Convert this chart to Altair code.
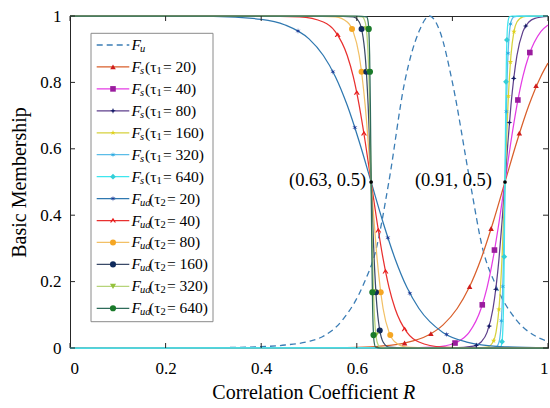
import altair as alt
import pandas as pd

# ---------------- values ----------------
fu_x = [0.0, 0.3, 0.4, 0.45, 0.5, 0.528, 0.57, 0.615, 0.64, 0.667, 0.70, 0.73, 0.752, 0.774, 0.80, 0.837, 0.864, 0.889, 0.934, 0.976, 1.0]
fu_y = [0.0, 0.001, 0.004, 0.009, 0.02, 0.034, 0.084, 0.195, 0.295, 0.5, 0.8, 0.953, 1.0, 0.953, 0.8, 0.5, 0.295, 0.195, 0.084, 0.034, 0.02]

fs20_x = [0.0, 0.4, 0.5, 0.6, 0.65, 0.7, 0.75, 0.78, 0.81, 0.835, 0.86, 0.885, 0.91, 0.935, 0.96, 0.985, 1.0]
fs20_y = [0.0, 0.0, 0.0003, 0.002, 0.0055, 0.015, 0.039, 0.069, 0.119, 0.182, 0.269, 0.378, 0.5, 0.622, 0.731, 0.818, 0.858]
fs40_x = [0.0, 0.7, 0.76, 0.785, 0.81, 0.835, 0.86, 0.8725, 0.885, 0.8975, 0.91, 0.9225, 0.935, 0.9475, 0.96, 0.985, 1.0]
fs40_y = [0.0, 0.0002, 0.0025, 0.0067, 0.018, 0.047, 0.119, 0.182, 0.269, 0.378, 0.5, 0.622, 0.731, 0.818, 0.881, 0.953, 0.973]
fs80_x = [0.0, 0.8, 0.8475, 0.86, 0.8725, 0.885, 0.8975, 0.90375, 0.91, 0.91625, 0.9225, 0.935, 0.9475, 0.96, 0.9725, 1.0]
fs80_y = [0.0, 0.0002, 0.0067, 0.018, 0.047, 0.119, 0.269, 0.378, 0.5, 0.622, 0.731, 0.881, 0.953, 0.982, 0.993, 0.999]
fs160_x = [0.0, 0.85, 0.8725, 0.885, 0.89125, 0.8975, 0.90375, 0.91, 0.91625, 0.9225, 0.92875, 0.935, 0.9475, 0.96, 1.0]
fs160_y = [0.0, 0.0001, 0.0025, 0.018, 0.047, 0.119, 0.269, 0.5, 0.731, 0.881, 0.953, 0.982, 0.9975, 1.0, 1.0]
fs320_x = [0.0, 0.88, 0.89125, 0.8975, 0.90375, 0.906875, 0.91, 0.913125, 0.91625, 0.9225, 0.92875, 0.94, 1.0]
fs320_y = [0.0, 0.0001, 0.0025, 0.018, 0.119, 0.269, 0.5, 0.731, 0.881, 0.982, 0.9975, 1.0, 1.0]
fs640_x = [0.0, 0.895, 0.900625, 0.90375, 0.906875, 0.9084, 0.91, 0.9116, 0.913125, 0.91625, 0.919375, 0.925, 1.0]
fs640_y = [0.0, 0.0001, 0.0025, 0.018, 0.119, 0.269, 0.5, 0.731, 0.881, 0.982, 0.9975, 1.0, 1.0]

fud20_x = [0.0, 0.3, 0.4, 0.45, 0.5, 0.53, 0.555, 0.58, 0.605, 0.63, 0.655, 0.68, 0.705, 0.73, 0.78, 0.83, 0.9, 1.0]
fud20_y = [1.0, 0.9986, 0.99, 0.973, 0.931, 0.881, 0.818, 0.731, 0.622, 0.5, 0.378, 0.269, 0.182, 0.119, 0.047, 0.018, 0.0045, 0.0006]
fud40_x = [0.0, 0.4, 0.48, 0.53, 0.555, 0.58, 0.5925, 0.605, 0.6175, 0.63, 0.6425, 0.655, 0.6675, 0.68, 0.705, 0.73, 0.78, 0.83, 1.0]
fud40_y = [1.0, 1.0, 0.9975, 0.982, 0.953, 0.881, 0.818, 0.731, 0.622, 0.5, 0.378, 0.269, 0.182, 0.119, 0.047, 0.018, 0.0025, 0.0003, 0.0]
fud80_x = [0.0, 0.5, 0.555, 0.58, 0.5925, 0.605, 0.6175, 0.63, 0.6425, 0.655, 0.6675, 0.68, 0.705, 0.75, 1.0]
fud80_y = [1.0, 1.0, 0.9975, 0.982, 0.953, 0.881, 0.731, 0.5, 0.269, 0.119, 0.047, 0.018, 0.0025, 0.0, 0.0]
fud160_x = [0.0, 0.55, 0.5925, 0.605, 0.6175, 0.62375, 0.63, 0.63625, 0.6425, 0.655, 0.6675, 0.7, 1.0]
fud160_y = [1.0, 1.0, 0.9975, 0.982, 0.881, 0.731, 0.5, 0.269, 0.119, 0.018, 0.0025, 0.0, 0.0]
fud320_x = [0.0, 0.58, 0.61125, 0.6175, 0.62375, 0.626875, 0.63, 0.633125, 0.63625, 0.6425, 0.64875, 0.66, 1.0]
fud320_y = [1.0, 1.0, 0.9975, 0.982, 0.881, 0.731, 0.5, 0.269, 0.119, 0.018, 0.0025, 0.0, 0.0]
fud640_x = [0.0, 0.6, 0.620625, 0.62375, 0.626875, 0.6284, 0.63, 0.6316, 0.633125, 0.63625, 0.639375, 0.65, 1.0]
fud640_y = [1.0, 1.0, 0.9975, 0.982, 0.881, 0.731, 0.5, 0.269, 0.119, 0.018, 0.0025, 0.0, 0.0]

# marker positions on each curve
m_fs20_x = [0.70, 0.755, 0.836, 0.881, 0.940, 0.975]
m_fs20_y = [0.015, 0.043, 0.185, 0.36, 0.647, 0.79]
m_fs40_x = [0.8055, 0.8625, 0.888, 0.937, 0.962]
m_fs40_y = [0.015, 0.13, 0.295, 0.747, 0.89]
m_fs80_x = [0.85, 0.877, 0.8908, 0.9194, 0.9283, 0.9535]
m_fs80_y = [0.008, 0.066, 0.177, 0.679, 0.812, 0.97]
m_fs160_x = [0.8863, 0.8973, 0.9172, 0.9214, 0.9288]
m_fs160_y = [0.022, 0.116, 0.759, 0.862, 0.953]
m_fs320_x = [0.9024, 0.9054, 0.9128, 0.9165, 0.9216]
m_fs320_y = [0.082, 0.185, 0.712, 0.888, 0.976]
m_fs640_x = [0.9038, 0.9085, 0.9122, 0.914]
m_fs640_y = [0.019, 0.275, 0.802, 0.928]
m_fud20_x = [0.477, 0.55, 0.596, 0.665, 0.711, 0.788]
m_fud20_y = [0.955, 0.832, 0.664, 0.332, 0.165, 0.041]
m_fud40_x = [0.56, 0.60, 0.615, 0.645, 0.66, 0.70]
m_fud40_y = [0.943, 0.769, 0.646, 0.354, 0.231, 0.057]
m_fud80_x = [0.59, 0.61, 0.65, 0.67]
m_fud80_y = [0.961, 0.832, 0.168, 0.039]
m_fud160_x = [0.61, 0.62, 0.64, 0.648]
m_fud160_y = [0.961, 0.832, 0.168, 0.053]
m_fud320_x = [0.62, 0.625, 0.635, 0.64]
m_fud320_y = [0.961, 0.832, 0.168, 0.039]
m_fud640_x = [0.625, 0.6275, 0.6325, 0.635]
m_fud640_y = [0.961, 0.832, 0.168, 0.039]

ann_x = [0.63, 0.91]
ann_y = [0.5, 0.5]
ann_text = ["(0.63, 0.5)", "(0.91, 0.5)"]

tick_values = [0, 0.2, 0.4, 0.6, 0.8, 1.0]

series = ["Fu", "Fs20", "Fs40", "Fs80", "Fs160", "Fs320", "Fs640",
          "Fud20", "Fud40", "Fud80", "Fud160", "Fud320", "Fud640"]
leg_sub = ["u", "s", "s", "s", "s", "s", "s", "ud", "ud", "ud", "ud", "ud", "ud"]
leg_tsub = ["", "1", "1", "1", "1", "1", "1", "2", "2", "2", "2", "2", "2"]
leg_val = ["", "20", "40", "80", "160", "320", "640", "20", "40", "80", "160", "320", "640"]

# ---------------- styles ----------------
line_colors = ["#3b7db5", "#d95f2b", "#e43de4", "#5e3f8c", "#d6d13c", "#5bbde8", "#3ee6ee",
               "#2f78b0", "#e8302f", "#f2c066", "#3a4a68", "#b6d47a", "#2e6b5a"]
marker_colors = ["#3b7db5", "#d01c1c", "#9a1c9e", "#141a66", "#e0d21e", "#27a9e1", "#34cfd8",
                 "#1c3a96", "#e81c1c", "#f5a623", "#0f2a5c", "#95c23d", "#1a7a2a"]
STAR5 = "M0,-1 L0.2245,-0.309 L0.951,-0.309 L0.363,0.118 L0.588,0.809 L0,0.382 L-0.588,0.809 L-0.363,0.118 L-0.951,-0.309 L-0.2245,-0.309 Z"
STAR4 = "M0,-1 L0.28,-0.28 L1,0 L0.28,0.28 L0,1 L-0.28,0.28 L-1,0 L-0.28,-0.28 Z"
STAR6 = "M0,-1 L0.15,-0.26 L0.866,-0.5 L0.3,0 L0.866,0.5 L0.15,0.26 L0,1 L-0.15,0.26 L-0.866,0.5 L-0.3,0 L-0.866,-0.5 L-0.15,-0.26 Z"
CARET = "M0,-0.9 L1,0.7 L0.55,0.7 L0,-0.1 L-0.55,0.7 L-1,0.7 Z"
shapes = ["circle", "triangle-up", "square", STAR4, STAR5, STAR6, "diamond",
          STAR6, CARET, "circle", "circle", "triangle-down", "circle"]
sizes = [30, 38, 32, 72, 80, 72, 34, 72, 56, 30, 30, 40, 26]

SERIF = "Liberation Serif, Times New Roman, Times, serif"
W, H = 478, 332

# ---------------- build tables ----------------
curves = {
    "Fs20": (fs20_x, fs20_y), "Fs40": (fs40_x, fs40_y), "Fs80": (fs80_x, fs80_y),
    "Fs160": (fs160_x, fs160_y), "Fs320": (fs320_x, fs320_y), "Fs640": (fs640_x, fs640_y),
    "Fud20": (fud20_x, fud20_y), "Fud40": (fud40_x, fud40_y), "Fud80": (fud80_x, fud80_y),
    "Fud160": (fud160_x, fud160_y), "Fud320": (fud320_x, fud320_y), "Fud640": (fud640_x, fud640_y),
}
markers = {
    "Fs20": (m_fs20_x, m_fs20_y), "Fs40": (m_fs40_x, m_fs40_y), "Fs80": (m_fs80_x, m_fs80_y),
    "Fs160": (m_fs160_x, m_fs160_y), "Fs320": (m_fs320_x, m_fs320_y), "Fs640": (m_fs640_x, m_fs640_y),
    "Fud20": (m_fud20_x, m_fud20_y), "Fud40": (m_fud40_x, m_fud40_y), "Fud80": (m_fud80_x, m_fud80_y),
    "Fud160": (m_fud160_x, m_fud160_y), "Fud320": (m_fud320_x, m_fud320_y), "Fud640": (m_fud640_x, m_fud640_y),
}
rows = []
for k, (xs, ys) in curves.items():
    for i, (a, b) in enumerate(zip(xs, ys)):
        rows.append({"s": k, "x": a, "y": b, "i": i})
lines_df = pd.DataFrame(rows)
fu_df = pd.DataFrame({"x": fu_x, "y": fu_y, "i": range(len(fu_x))})
mrows = []
for k, (xs, ys) in markers.items():
    for a, b in zip(xs, ys):
        mrows.append({"s": k, "x": a, "y": b})
mark_df = pd.DataFrame(mrows)


def px(p):
    return p / W


def py(p):
    return 1 - p / H


ann_df = pd.DataFrame({"x": ann_x, "y": ann_y, "t": ann_text})
ann_df["tx"] = [ann_x[0] - px(5), ann_x[1] - px(13)]

leg = pd.DataFrame({"s": series, "sub": leg_sub, "tsub": leg_tsub, "val": leg_val})
leg["y"] = [py(29 + 21.94 * i) for i in range(len(series))]
leg["lx1"] = px(26.7)
leg["lx2"] = px(59.3)
leg["mx"] = px(43)
leg["fx"] = px(61.5)
leg["subx"] = px(70)
leg["px_"] = [px(79.0) if s == "ud" else px(75.0) for s in leg_sub]
leg["tsx"] = leg["px_"] + px(11.5)
leg["rx"] = leg["tsx"] + px(6.5)
leg["paren"] = ["" if s == "u" else "(τ" for s in leg_sub]
leg["rest"] = ["" if v == "" else "= " + v + ")" for v in leg_val]
box_df = pd.DataFrame({"x": [px(21)], "x2": [px(143)], "y": [py(17.3)], "y2": [py(305.7)]})

tick_df = pd.DataFrame({"v": tick_values})
tick_df["zero"] = 0.0
tick_df["one"] = 1.0
tick_df["ty"] = 5 / H
tick_df["ty1"] = 1 - 5 / H
tick_df["tx"] = 5 / W
tick_df["tx1"] = 1 - 5 / W

xtitle_df = pd.DataFrame({"a": ["Correlation Coefficient"], "b": ["R"],
                          "xa": [px(328)], "xb": [px(333)], "y": [py(377)]})

# ---------------- encodings ----------------
xs_ = alt.Scale(domain=[0, 1], nice=False, zero=False)
ys_ = alt.Scale(domain=[0, 1], nice=False, zero=False)
xaxis = alt.Axis(values=tick_values, format="~g", title="", grid=False, ticks=False, domain=False,
                 labelFont=SERIF, labelFontSize=17, labelColor="black", labelPadding=12)
yaxis = alt.Axis(values=tick_values, format="~g", title="Basic Membership", grid=False, ticks=False,
                 domain=False, labelFont=SERIF, labelFontSize=17, labelColor="black", labelPadding=9,
                 titleFont=SERIF, titleFontSize=20, titleFontWeight="normal", titleColor="black",
                 titlePadding=10)


def X(f):
    return alt.X(f, type="quantitative", scale=xs_, axis=xaxis)


def Y(f):
    return alt.Y(f, type="quantitative", scale=ys_, axis=yaxis)


stroke_scale = alt.Scale(domain=series, range=line_colors)
fill_scale = alt.Scale(domain=series, range=marker_colors)
shape_scale = alt.Scale(domain=series, range=shapes)
size_scale = alt.Scale(domain=series, range=sizes)

fu_layer = alt.Chart(fu_df).mark_line(color=line_colors[0], strokeDash=[6, 4], strokeWidth=1.3,
                                      interpolate="monotone").encode(x=X("x"), y=Y("y"), order="i:Q")
lines_layer = alt.Chart(lines_df).mark_line(strokeWidth=1.25, interpolate="monotone").encode(
    x=X("x"), y=Y("y"), detail="s:N", order="i:Q",
    stroke=alt.Stroke("s:N", scale=stroke_scale, legend=None))
marks_layer = alt.Chart(mark_df).mark_point(filled=True, opacity=1, strokeWidth=0).encode(
    x=X("x"), y=Y("y"),
    fill=alt.Fill("s:N", scale=fill_scale, legend=None),
    shape=alt.Shape("s:N", scale=shape_scale, legend=None),
    size=alt.Size("s:N", scale=size_scale, legend=None))
ann_pts = alt.Chart(ann_df).mark_point(filled=True, color="black", size=14, opacity=1).encode(
    x=X("x"), y=Y("y"))
ann_txt = alt.Chart(ann_df).mark_text(font=SERIF, fontSize=18.5, align="right", baseline="middle",
                                      dy=-2, color="black").encode(x=X("tx"), y=Y("y"), text="t:N")

tick_b = alt.Chart(tick_df).mark_rule(color="#262626").encode(x=X("v"), y=Y("zero"), y2="ty:Q")
tick_t = alt.Chart(tick_df).mark_rule(color="#262626").encode(x=X("v"), y=Y("one"), y2="ty1:Q")
tick_l = alt.Chart(tick_df).mark_rule(color="#262626").encode(y=Y("v"), x=X("zero"), x2="tx:Q")
tick_r = alt.Chart(tick_df).mark_rule(color="#262626").encode(y=Y("v"), x=X("one"), x2="tx1:Q")

box = alt.Chart(box_df).mark_rect(fill="white", stroke="#8a8a8a", strokeWidth=1).encode(
    x=X("x"), x2="x2:Q", y=Y("y"), y2="y2:Q")
leg_lines = alt.Chart(leg[leg.s != "Fu"]).mark_rule(strokeWidth=1.25).encode(
    x=X("lx1"), x2="lx2:Q", y=Y("y"), stroke=alt.Stroke("s:N", scale=stroke_scale, legend=None))
leg_fu = alt.Chart(leg[leg.s == "Fu"]).mark_rule(strokeWidth=1.3, strokeDash=[6, 4],
                                                 color=line_colors[0]).encode(
    x=X("lx1"), x2="lx2:Q", y=Y("y"))
leg_marks = alt.Chart(leg[leg.s != "Fu"]).mark_point(filled=True, opacity=1, strokeWidth=0).encode(
    x=X("mx"), y=Y("y"),
    fill=alt.Fill("s:N", scale=fill_scale, legend=None),
    shape=alt.Shape("s:N", scale=shape_scale, legend=None),
    size=alt.Size("s:N", scale=size_scale, legend=None))
leg_F = alt.Chart(leg).mark_text(text="F", font=SERIF, fontSize=15.5, fontStyle="italic", align="left",
                                 baseline="middle", color="black").encode(x=X("fx"), y=Y("y"))
leg_sub_t = alt.Chart(leg).mark_text(font=SERIF, fontSize=10.5, fontStyle="italic", align="left",
                                     baseline="middle", dy=4, color="black").encode(
    x=X("subx"), y=Y("y"), text="sub:N")
leg_paren = alt.Chart(leg[leg.s != "Fu"]).mark_text(font=SERIF, fontSize=15.5, align="left",
                                                    baseline="middle", color="black").encode(
    x=X("px_"), y=Y("y"), text="paren:N")
leg_tsub_t = alt.Chart(leg[leg.s != "Fu"]).mark_text(font=SERIF, fontSize=10.5, align="left",
                                                     baseline="middle", dy=4, color="black").encode(
    x=X("tsx"), y=Y("y"), text="tsub:N")
leg_rest = alt.Chart(leg[leg.s != "Fu"]).mark_text(font=SERIF, fontSize=15.5, align="left",
                                                   baseline="middle", color="black").encode(
    x=X("rx"), y=Y("y"), text="rest:N")

xt_a = alt.Chart(xtitle_df).mark_text(font=SERIF, fontSize=20, align="right", baseline="middle",
                                      color="black").encode(x=X("xa"), y=Y("y"), text="a:N")
xt_b = alt.Chart(xtitle_df).mark_text(font=SERIF, fontSize=20, fontStyle="italic", align="left",
                                      baseline="middle", color="black").encode(x=X("xb"), y=Y("y"), text="b:N")

chart = alt.layer(
    fu_layer, lines_layer, marks_layer, ann_pts, ann_txt,
    tick_b, tick_t, tick_l, tick_r,
    box, leg_fu, leg_lines, leg_marks, leg_F, leg_sub_t, leg_paren, leg_tsub_t, leg_rest,
    xt_a, xt_b,
).properties(
    width=W, height=H,
    padding={"left": 70, "top": 16, "right": 2, "bottom": 60},
    autosize=alt.AutoSizeParams(type="none"),
    background="white",
).configure_view(stroke="#262626", strokeWidth=1)

chart.save("out.html", embed_options={"renderer": "svg", "actions": False})
